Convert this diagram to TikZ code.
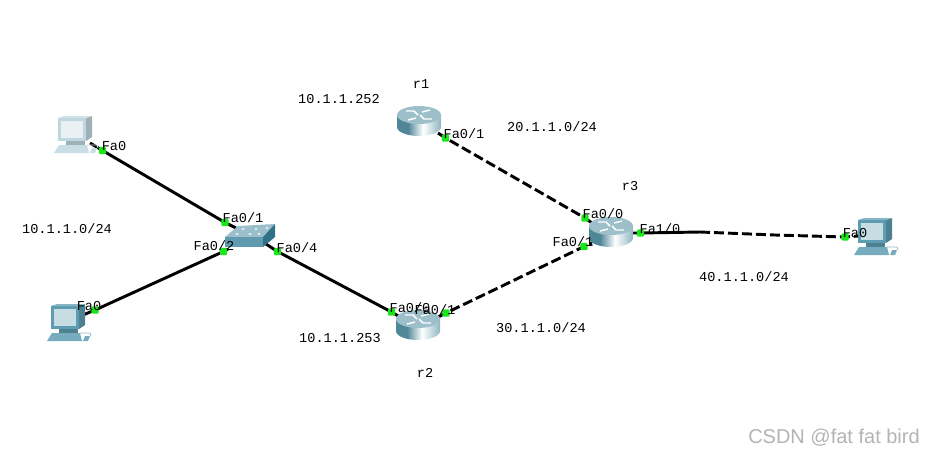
\documentclass[tikz,border=0pt]{standalone}
\usepackage{fontspec}
\setmainfont{Liberation Mono}
\newfontfamily\markfont{Liberation Sans}
\usetikzlibrary{positioning, backgrounds}
\definecolor{pcpale}{HTML}{BFD8DF}
\definecolor{pcdark}{HTML}{5E9DB1}
\definecolor{routertop}{HTML}{9DBFC9}
\definecolor{routeredge}{HTML}{4F8698}
\definecolor{swtop}{HTML}{9CC0CB}
\definecolor{swfront}{HTML}{5F9AAE}
\definecolor{swside}{HTML}{2F7287}
\definecolor{portgreen}{HTML}{19E619}
\definecolor{markgray}{HTML}{B4B4B4}
\pgfdeclarehorizontalshading{routerbody}{100bp}{
  color(0bp)=(routeredge); color(25bp)=(routeredge);
  color(42bp)=(white); color(60bp)=(routertop); color(75bp)=(routeredge)}

\begin{document}
\begin{tikzpicture}[
  x=0.75pt, y=-0.75pt,
  link/.style  = {draw=black, line width=2.2pt},
  wan/.style   = {link, dash pattern=on 7.5pt off 3pt},
  port/.style  = {rectangle, rounded corners=1pt, fill=portgreen, inner sep=0pt, minimum size=5.5pt},
  lbl/.style   = {font=\fontsize{10.2}{12}\selectfont, inner sep=0pt, text=black},
  router/.pic  = {
    \path[shading=routerbody]
      (-22,-6) -- (-22,6) arc[start angle=180, end angle=0, x radius=22, y radius=9]
      -- (22,-6) -- cycle;
    \fill[routertop] (0,-6) ellipse[x radius=22, y radius=9];
    \draw[white, line width=1.1pt] (-13,-10) -- (-5,-10) -- (-1,-6);
    \draw[white, line width=1.1pt] (13,-2) -- (5,-2) -- (1,-6);
    \draw[white, line width=1.1pt] (-11,-1) -- (-3,-3);
    \draw[white, line width=1.1pt] (11,-11) -- (3,-9);
  },
  pc/.pic = {
    % side and top of the monitor
    \fill[#1!82!black] (11,-17) -- (17,-19) -- (17,2) -- (11,6) -- cycle;
    \fill[#1!75!white] (-17,-17) -- (-11,-19) -- (17,-19) -- (11,-17) -- cycle;
    \fill[#1] (-17,-17) rectangle (11,6);
    \fill[#1!35!white] (-14,-14) rectangle (8,3);
    % stand, keyboard and mouse
    \fill[#1!82!black] (-9,6) rectangle (10,10);
    \fill[#1!85!white] (-21,18) -- (-16,10) -- (12,10) -- (14,18) -- cycle;
    \fill[#1!85!white] (15,18) -- (17,13) -- (22,13) -- (20,18) -- cycle;
    \draw[#1!70!white, line width=0.6pt] (12,10) -- (22,10) -- (23,13);
  },
  swbox/.pic = {
    \fill[swtop] (-25,2) -- (-12,-9) -- (25,-11) -- (13,2) -- cycle;
    \fill[swfront] (-25,2) -- (13,2) -- (13,12) -- (-25,12) -- cycle;
    \fill[swside] (13,2) -- (25,-11) -- (25,2) -- (13,12) -- cycle;
    \foreach \hx/\hy in {-13/-1, 0/-1, 9/-1, -7/-6, 6/-6, 17/-7}
      \fill[white!85!swtop] (\hx,\hy) ellipse[x radius=1.6, y radius=1];
  },
]
  \useasboundingbox (0,0) rectangle (935,455);

  % Devices
  \coordinate (pca) at (75,135);
  \coordinate (pcb) at (68,323);
  \coordinate (pcc) at (875,237);
  \coordinate (sw)  at (250,235);
  \coordinate (r1)  at (419,121);
  \coordinate (r2)  at (418,325);
  \coordinate (r3)  at (611,232);

  % Cable ends at the icons
  \coordinate (pcaend) at (90,143);
  \coordinate (pcbend) at (83,315);
  \coordinate (pccend) at (858,236);
  \coordinate (swa)    at (236,228);
  \coordinate (swb)    at (228,249);
  \coordinate (swc)    at (266,244);
  \coordinate (r1end)  at (438,133);
  \coordinate (r2a)    at (400,317);
  \coordinate (r2b)    at (438,317);
  \coordinate (r3a)    at (592,223);
  \coordinate (r3b)    at (592,243);
  \coordinate (r3c)    at (632,233);
  \coordinate (bendl)  at (700,232);
  \coordinate (bendr)  at (775,235);

  % Ports
  \node[port] (pcaport) at (102.5,150.5) {};
  \node[port] (pcbport) at (95,310) {};
  \node[port] (pccport) at (845,237) {};
  \node[port] (swaport) at (225,222.5) {};
  \node[port] (swbport) at (223.5,251.5) {};
  \node[port] (swcport) at (277.5,251.5) {};
  \node[port] (r1port)  at (445.5,138) {};
  \node[port] (r2aport) at (391.5,312) {};
  \node[port] (r2bport) at (446,313) {};
  \node[port] (r3aport) at (585,218) {};
  \node[port] (r3bport) at (584,246.5) {};
  \node[port] (r3cport) at (640.5,233) {};

  % Cables
  \begin{scope}[on background layer]
    \draw[link] (pcaend) -- (pcaport.center) -- (swaport.center) -- (swa);
    \draw[link] (pcbend) -- (pcbport.center) -- (swbport.center) -- (swb);
    \draw[link] (swc) -- (swcport.center) -- (r2aport.center) -- (r2a);
    \draw[wan]  (r1end) -- (r1port.center) -- (r3aport.center) -- (r3a);
    \draw[wan]  (r2b) -- (r2bport.center) -- (r3bport.center) -- (r3b);
    \draw[link] (r3c) -- (r3cport.center) -- (bendl);
    \draw[wan]  (bendl) -- (bendr) -- (pccport.center) -- (pccend);
  \end{scope}

  % Icons
  \pic at (pca) {pc=pcpale};
  \pic at (pcb) {pc=pcdark};
  \pic at (pcc) {pc=pcdark};
  \pic at (sw)  {swbox};
  \pic at (r1)  {router};
  \pic at (r2)  {router};
  \pic at (r3)  {router};

  % Port labels
  \node[lbl] (pcalbl) at (114,146) {Fa0};
  \node[lbl] (pcblbl) at (89,306) {Fa0};
  \node[lbl] (pcclbl) at (855,233) {Fa0};
  \node[lbl] (swalbl) at (243,218) {Fa0/1};
  \node[lbl] (swblbl) at (214,246) {Fa0/2};
  \node[lbl] (swclbl) at (297,248) {Fa0/4};
  \node[lbl] (r1lbl)  at (464,134) {Fa0/1};
  \node[lbl] (r2albl) at (410,308) {Fa0/0};
  \node[lbl] (r2blbl) at (435,310) {Fa0/1};
  \node[lbl] (r3albl) at (603,214) {Fa0/0};
  \node[lbl] (r3blbl) at (573,242) {Fa0/1};
  \node[lbl] (r3clbl) at (660,229) {Fa1/0};

  % Notes
  \node[lbl] (r1name) at (421,84)  {r1};
  \node[lbl] (r2name) at (425,373) {r2};
  \node[lbl] (r3name) at (630,186) {r3};
  \node[lbl] (lanip)  at (67,229)  {10.1.1.0/24};
  \node[lbl] (r1ip)   at (339,99)  {10.1.1.252};
  \node[lbl] (r2ip)   at (340,338) {10.1.1.253};
  \node[lbl] (netb)   at (552,127) {20.1.1.0/24};
  \node[lbl] (netc)   at (541,328) {30.1.1.0/24};
  \node[lbl] (netd)   at (744,277) {40.1.1.0/24};
  \node[font=\markfont\fontsize{15}{17}\selectfont, text=markgray, inner sep=0pt] (mark) at (834,438) {CSDN @fat fat bird};
\end{tikzpicture}
\end{document}
